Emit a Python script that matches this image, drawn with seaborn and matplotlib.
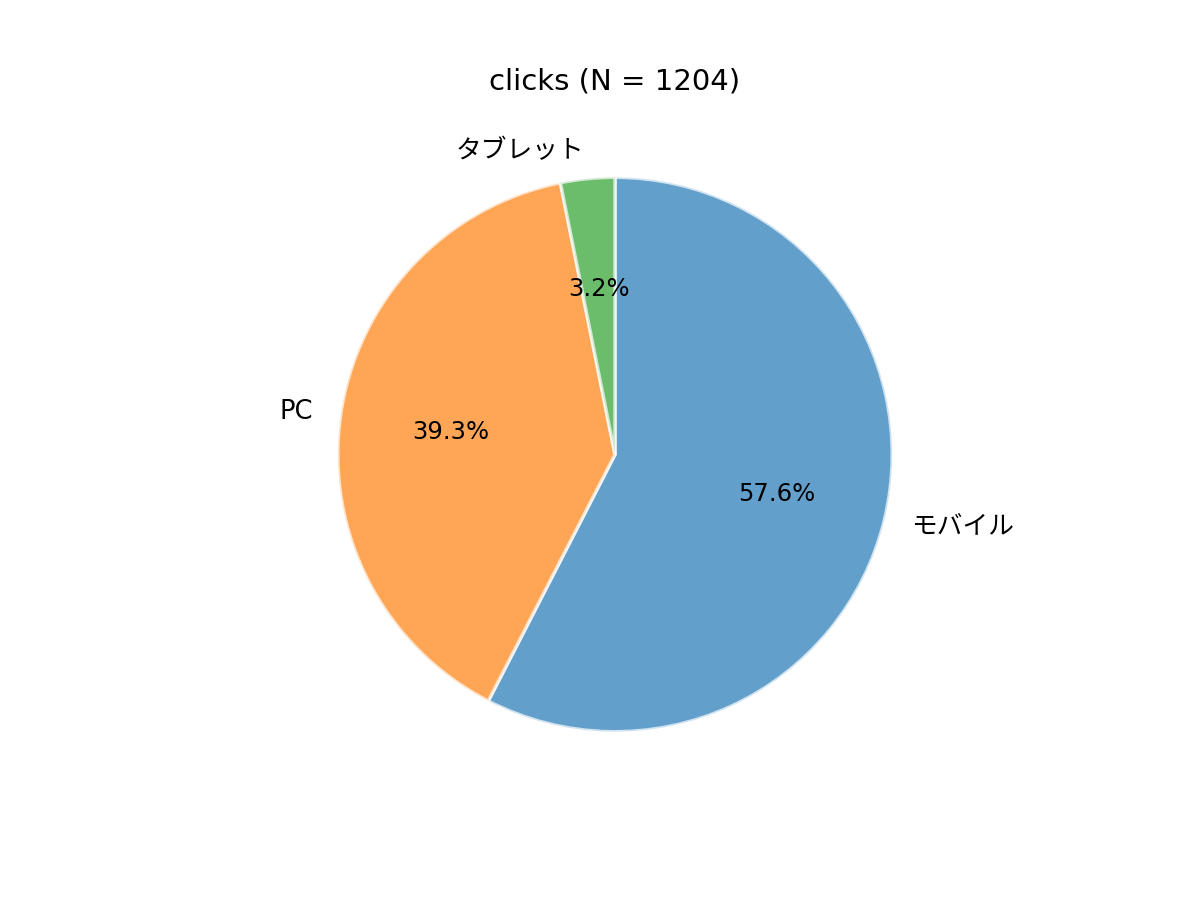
import matplotlib
matplotlib.use("Agg")
import matplotlib.pyplot as plt
import seaborn as sns

sns.set_theme(style="white")
plt.rcParams['font.family'] = ['DejaVu Sans', 'Noto Sans CJK JP']
plt.rcParams['text.color'] = 'black'

categories = ["モバイル", "PC", "タブレット"]
counts = [693, 473, 38]
title = "clicks (N = 1204)"

colors = sns.color_palette("tab10", 3)

fig, ax = plt.subplots(figsize=(12, 9), dpi=100)
wedges, texts, autotexts = ax.pie(
    counts, labels=categories, colors=colors, autopct="%1.1f%%",
    startangle=90, counterclock=False,
    wedgeprops=dict(edgecolor="white", linewidth=2.5, alpha=0.7),
    textprops=dict(fontsize=17.5, color="black"),
)
for t in texts:
    t.set_fontsize(18.5)
ax.set_title(title, fontsize=21, color="black", pad=13)
fig.savefig("out.png", dpi=100)
